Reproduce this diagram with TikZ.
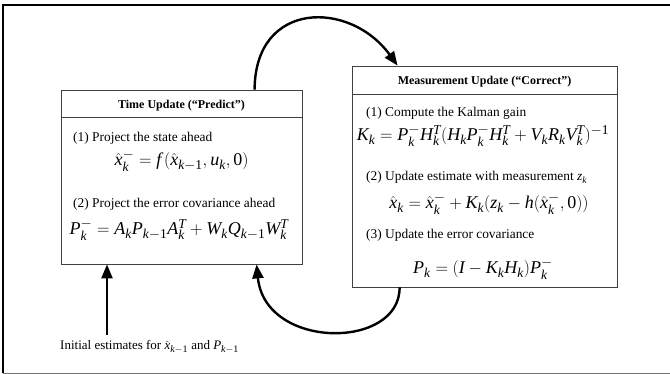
\documentclass[tikz,border=0pt]{standalone}
\usepackage{mathspec}
\setmainfont{Liberation Serif}
\setmathsfont(Digits,Latin){Liberation Serif}
\DeclareMathSizes{18}{18}{13.5}{11}
\DeclareMathSizes{13}{13}{10}{8}
\usetikzlibrary{arrows.meta,calc}
\begin{document}
\begin{tikzpicture}[x=1pt,y=-1pt,
  box/.style={draw=black!75,line width=0.8pt,rectangle,inner sep=0pt},
  sep/.style={draw=black!75,line width=0.8pt},
  txt/.style={anchor=base west,inner sep=0pt,font=\fontsize{13.4}{16}\selectfont},
  ttl/.style={anchor=base,inner sep=0pt,font=\fontsize{12}{15}\selectfont\bfseries},
  eqn/.style={anchor=base,inner sep=0pt,font=\fontsize{18}{22}\selectfont},
  flow/.style={line width=2.4pt,-{Triangle[length=14pt,width=11pt]}},
]
\useasboundingbox (0,0) rectangle (670,374);
\draw[line width=1.6pt,line join=miter] (670,5) -- (3,5) -- (3,373);
\draw[line width=1pt,black!55] (3,373) -- (670,373);
% boxes
\node[box,minimum width=241pt,minimum height=174pt] (tu) at (181.5,177) {};
\node[box,minimum width=265pt,minimum height=221pt] (mu) at (484.5,176.5) {};
\draw[sep] ($(tu.north west)+(0,28)$) -- ($(tu.north east)+(0,28)$);
\draw[sep] ($(mu.north west)+(0,29)$) -- ($(mu.north east)+(0,29)$);
% time update
\node[ttl] (tut) at (181.5,109) {Time Update (“Predict”)};
\node[txt] (tu1) at (73,142) {(1) Project the state ahead};
\node[eqn] (tue1) at (181.5,166) {$\hat{x}^{-}_{k} = f\,(\hat{x}_{k-1}, u_k, 0)$};
\node[txt] (tu2) at (73,208) {(2) Project the error covariance ahead};
\node[eqn] (tue2) at (179,235) {$P^{-}_{k} = A_k P_{k-1} A^{T}_{k} + W_k Q_{k-1} W^{T}_{k}$};
% measurement update
\node[ttl] (mut) at (484.5,85) {Measurement Update (“Correct”)};
\node[txt] (mu1) at (366,117) {(1) Compute the Kalman gain};
\node[eqn] (mue1) at (483,141) {$K_k = P^{-}_{k} H^{T}_{k} (H_k P^{-}_{k} H^{T}_{k} + V_k R_k V^{T}_{k})^{-1}$};
\node[txt] (mu2) at (366,181) {(2) Update estimate with measurement $z_k$};
\node[eqn] (mue2) at (489,209) {$\hat{x}_k = \hat{x}^{-}_{k} + K_k(z_k - h(\hat{x}^{-}_{k}, 0))$};
\node[txt] (mu3) at (366,239) {(3) Update the error covariance};
\node[eqn] (mue3) at (483,274) {$P_k = (I - K_k H_k) P^{-}_{k}$};
% initial
\node[txt,font=\fontsize{13}{15}\selectfont] (init) at (60,350) {Initial estimates for $\hat{x}_{k-1}$ and $P_{k-1}$};
\coordinate (initstart) at (107,335);
% arrows
\draw[flow] (initstart) -- (initstart |- tu.south);
\draw[flow] ($(tu.north west)+(194,0)$) .. controls (255,0) and (350,0) .. ($(mu.north west)+(46,0)$);
\draw[flow] ($(mu.south west)+(48,0)$) .. controls (400,350) and (265,350) .. ($(tu.south west)+(196,0)$);
\end{tikzpicture}
\end{document}
